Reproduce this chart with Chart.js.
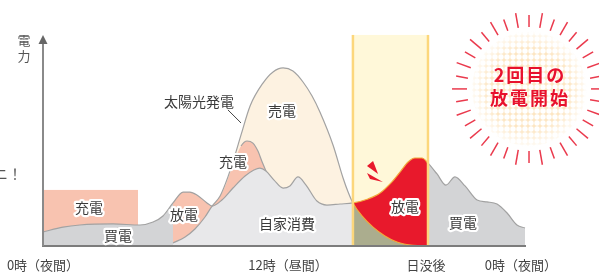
<!DOCTYPE html>
<html><head><meta charset="utf-8">
<script src="https://cdn.jsdelivr.net/npm/chart.js@4"></script>
<style>html,body{margin:0;padding:0;background:#fff;overflow:hidden}</style>
</head><body>
<canvas id="c" width="599" height="273"></canvas>
<script>
// ---- data (x: hour of day, y: relative power) ----
const consumptionX = [0,0.99,1.83,3.48,4.82,5.47,5.96,6.46,6.96,7.30,7.65,8.15,8.40,8.89,9.44,10.04,10.48,10.78,11.08,11.48,11.93,12.27,12.67,13.07,13.61,14.11,14.76,15.40,16.15,16.75,17.34,17.74,18.14,18.48,18.83,19.13,19.58,20.02,20.47,20.97,21.57,22.06,22.56,23.06,23.55,23.95];
const consumptionY = [6.7,9.0,10.0,10.5,10.0,11.4,14.3,20.5,25.7,25.7,24.3,20.5,19.0,21.9,27.6,33.3,36.2,37.1,35.7,31.4,27.6,28.6,32.9,29.0,21.4,19.5,20.0,20.5,22.4,25.2,30.5,35.2,40.0,41.9,41.9,39.5,34.3,29.0,32.9,28.6,21.9,21.0,20.0,15.7,10.0,8.6];
const solarX = [6.46,7.06,7.55,8.05,8.40,8.80,9.19,9.54,9.84,10.29,10.93,11.43,11.93,12.42,12.92,13.37,13.76,14.41,14.91,15.16,15.40,15.85,16.40,16.99,17.59,18.39,19.13];
const solarY = [1.4,4.3,8.1,13.8,19.0,23.8,32.9,43.3,52.9,66.7,77.6,82.9,84.8,83.3,78.1,71.4,63.8,48.1,32.4,25.7,20.5,14.3,9.0,4.8,1.9,0.3,0];
const chargeX = [8.40,8.97,9.49,9.84,10.14,10.43,10.68,10.87,11.08];
const chargeY = [19.0,26.7,40.0,47.6,50.0,49.0,45.2,40.5,35.7];
const nightChargeX = [0, 4.72];
const nightChargeTop = 26.7;
const dischargeStart = 6.46, dischargeEnd = 8.40;
const bandStart = 15.40, bandEnd = 19.13, bandTop = 100.5;
const tickText = ['0時（夜間）','12時（昼間）','日没後','0時（夜間）'];
const tickX = [0, 12.17, 19.03, 23.75];
const areaText = ['充電','買電','放電','充電','売電','自家消費','放電','買電'];
const areaX = [2.29,3.73,7.01,9.44,11.88,12.12,17.99,20.87];
const areaY = [18.1,4.8,14.8,40.0,64.3,10.5,18.6,11.0];

// ---- styles ----
const GRAY_LINE = '#a2a2a2', ORANGE_LINE = '#f2a93b';
const DARK = '#d3d4d6', LIGHT = '#e8e8ea', PINK = '#f8c3b0', CREAM = '#fdf2e1', RED = '#e8192c', OLIVE = '#abad8e';
const BAND_FILL = '#fff8d9', BAND_EDGE = '#fcd77c';
const FONT = '"Noto Sans CJK JP", "Noto Sans", sans-serif';

const toPts = (xs, ys) => xs.map((v, i) => ({x: v, y: ys[i]}));
const inBand = c => c.p0.parsed.x >= bandStart - 1e-6 && c.p1.parsed.x <= bandEnd + 1e-6;

function areaPath(ctx, pts, base) {
  ctx.moveTo(pts[0].x, base);
  ctx.lineTo(pts[0].x, pts[0].y);
  for (let i = 1; i < pts.length; i++) {
    const p = pts[i-1], c = pts[i];
    ctx.bezierCurveTo(p.cp2x, p.cp2y, c.cp1x, c.cp1y, c.x, c.y);
  }
  ctx.lineTo(pts[pts.length-1].x, base);
  ctx.closePath();
}
function fillArea(ctx, pts, base, x0, x1, color, clipPts) {
  ctx.save();
  ctx.beginPath(); ctx.rect(x0, 0, x1 - x0, base + 1); ctx.clip();
  if (clipPts) { ctx.beginPath(); areaPath(ctx, clipPts, base); ctx.clip(); }
  ctx.beginPath(); areaPath(ctx, pts, base);
  ctx.fillStyle = color; ctx.fill();
  ctx.restore();
}
function label(ctx, text, px, py, o) {
  o = o || {};
  ctx.save();
  ctx.font = (o.weight || '400') + ' ' + (o.size || 14) + 'px ' + FONT;
  ctx.textAlign = o.align || 'center'; ctx.textBaseline = 'middle';
  if (o.spacing) ctx.letterSpacing = o.spacing;
  if (o.halo) { ctx.lineJoin = 'round'; ctx.lineWidth = 4.5; ctx.strokeStyle = '#fff'; ctx.strokeText(text, px, py); }
  ctx.fillStyle = o.color || '#3a3a3a'; ctx.fillText(text, px, py);
  ctx.restore();
}

const decor = {
  id: 'decor',
  beforeDatasetsDraw(chart) {
    const {ctx, scales: {x, y}} = chart;
    const base = y.getPixelForValue(0);
    const C = chart.getDatasetMeta(0).data, S = chart.getDatasetMeta(1).data, P = chart.getDatasetMeta(2).data;
    const X = v => x.getPixelForValue(v);
    ctx.save();
    // evening band
    ctx.fillStyle = BAND_FILL;
    ctx.fillRect(X(bandStart), y.getPixelForValue(bandTop), X(bandEnd) - X(bandStart), base - y.getPixelForValue(bandTop));
    // night charge block
    ctx.fillStyle = PINK;
    ctx.fillRect(X(nightChargeX[0]), y.getPixelForValue(nightChargeTop), X(nightChargeX[1]) - X(nightChargeX[0]), base - y.getPixelForValue(nightChargeTop));
    // solar surplus (sell)
    fillArea(ctx, S, base, X(dischargeEnd), X(bandStart), CREAM);
    // daytime charge
    fillArea(ctx, P, base, X(dischargeEnd), X(bandStart), PINK, S);
    // consumption regions
    fillArea(ctx, C, base, X(0), X(dischargeStart), DARK);
    fillArea(ctx, C, base, X(dischargeStart), X(dischargeEnd), PINK);
    fillArea(ctx, C, base, X(dischargeEnd), X(bandStart), LIGHT);
    fillArea(ctx, C, base, X(bandStart), X(bandEnd), RED);
    fillArea(ctx, C, base, X(bandEnd), X(24.2), DARK);
    // solar under consumption
    fillArea(ctx, S, base, X(dischargeStart), X(dischargeEnd), LIGHT);
    fillArea(ctx, S, base, X(bandStart), X(bandEnd), OLIVE);
    ctx.restore();
  },
  afterDatasetsDraw(chart) {
    const {ctx, chartArea: a, scales: {x, y}} = chart;
    const X = v => x.getPixelForValue(v), Y = v => y.getPixelForValue(v);
    const base = Y(0);
    ctx.save();
    // band edges
    ctx.strokeStyle = BAND_EDGE; ctx.lineWidth = 2.5;
    [bandStart, bandEnd].forEach(b => { ctx.beginPath(); ctx.moveTo(X(b), Y(bandTop)); ctx.lineTo(X(b), base); ctx.stroke(); });
    // axes
    ctx.strokeStyle = '#7c7c7c'; ctx.lineWidth = 2;
    ctx.beginPath(); ctx.moveTo(a.left - 1, base); ctx.lineTo(a.right, base); ctx.stroke();
    ctx.strokeStyle = '#8a8a8a';
    ctx.beginPath(); ctx.moveTo(a.left, base); ctx.lineTo(a.left, a.top + 6); ctx.stroke();
    ctx.fillStyle = '#666';
    ctx.beginPath(); ctx.moveTo(a.left, a.top - 1); ctx.lineTo(a.left - 4.5, a.top + 8); ctx.lineTo(a.left + 4.5, a.top + 8); ctx.closePath(); ctx.fill();
    // alert wedges
    ctx.fillStyle = RED;
    [[[16.10,38.1],[16.40,40.5],[16.65,34.3]], [[16.10,34.8],[16.25,31.9],[16.89,30.5]]].forEach(w => {
      ctx.beginPath(); w.forEach((p, i) => i ? ctx.lineTo(X(p[0]), Y(p[1])) : ctx.moveTo(X(p[0]), Y(p[1]))); ctx.closePath(); ctx.fill();
    });
    // solar leader
    ctx.strokeStyle = '#444'; ctx.lineWidth = 1;
    ctx.beginPath(); ctx.moveTo(X(9.19), Y(64.8)); ctx.lineTo(X(9.84), Y(58.6)); ctx.stroke();
    ctx.restore();

    // texts
    areaText.forEach((t, i) => label(ctx, t, X(areaX[i]), Y(areaY[i]), {halo: true}));
    label(ctx, '太陽光発電', X(7.75), Y(68.6), {});
    tickText.forEach((t, i) => label(ctx, t, X(tickX[i]), base + 19, {size: 13, color: '#444'}));
    label(ctx, '電', a.left - 19, a.top + 4, {size: 13, color: '#555'});
    label(ctx, '力', a.left - 19, a.top + 20, {size: 13, color: '#555'});
    label(ctx, 'ニ！', -6, 174, {size: 14, color: '#555', align: 'left'});

    // burst badge
    const cx = X(24.15), cy = Y(74.8);
    const pc = document.createElement('canvas'); pc.width = 6; pc.height = 6;
    const pctx = pc.getContext('2d');
    pctx.fillStyle = '#fde6c3'; pctx.fillRect(0, 0, 6, 6);
    pctx.fillStyle = '#fff'; pctx.beginPath(); pctx.arc(3, 3, 2.7, 0, Math.PI * 2); pctx.fill();
    ctx.save();
    ctx.fillStyle = ctx.createPattern(pc, 'repeat');
    ctx.beginPath(); ctx.arc(cx, cy, 57, 0, Math.PI * 2); ctx.fill();
    const g = ctx.createRadialGradient(cx, cy, 40, cx, cy, 58);
    g.addColorStop(0, 'rgba(255,255,255,0)'); g.addColorStop(1, 'rgba(255,255,255,0.85)');
    ctx.fillStyle = g; ctx.beginPath(); ctx.arc(cx, cy, 58, 0, Math.PI * 2); ctx.fill();
    ctx.strokeStyle = '#ea3a4d'; ctx.lineWidth = 1.5;
    for (let i = 0; i < 36; i++) {
      const ang = i * Math.PI / 18, r1 = 62, r2 = i % 2 ? 74 : 77;
      ctx.beginPath();
      ctx.moveTo(cx + r1 * Math.cos(ang), cy + r1 * Math.sin(ang));
      ctx.lineTo(cx + r2 * Math.cos(ang), cy + r2 * Math.sin(ang));
      ctx.stroke();
    }
    ctx.restore();
    label(ctx, '2回目の', cx + 1, cy - 14, {size: 18, weight: '700', color: '#e8112d', spacing: '2px'});
    label(ctx, '放電開始', cx + 1, cy + 9, {size: 18, weight: '700', color: '#e8112d', spacing: '2px'});
  }
};

const lineDs = (pts, seg) => ({
  data: pts, borderColor: GRAY_LINE, borderWidth: 1.2, fill: false, pointRadius: 0,
  cubicInterpolationMode: 'monotone', segment: {borderColor: seg}
});

new Chart(document.getElementById('c'), {
  type: 'line',
  data: {datasets: [
    lineDs(toPts(consumptionX, consumptionY), c => inBand(c) ? ORANGE_LINE : GRAY_LINE),
    lineDs(toPts(solarX, solarY), c => inBand(c) ? ORANGE_LINE : GRAY_LINE),
    lineDs(toPts(chargeX, chargeY), c => c.p0.parsed.x < 9.8 ? 'rgba(0,0,0,0)' : GRAY_LINE)
  ]},
  options: {
    responsive: false, animation: false, devicePixelRatio: 1, events: [],
    layout: {padding: {left: 43, right: 73, top: 36, bottom: 27}},
    scales: {
      x: {type: 'linear', min: 0, max: 24, display: false},
      y: {type: 'linear', min: 0, max: 100, display: false}
    },
    plugins: {legend: {display: false}, tooltip: {enabled: false}}
  },
  plugins: [decor]
});
</script>
</body></html>
